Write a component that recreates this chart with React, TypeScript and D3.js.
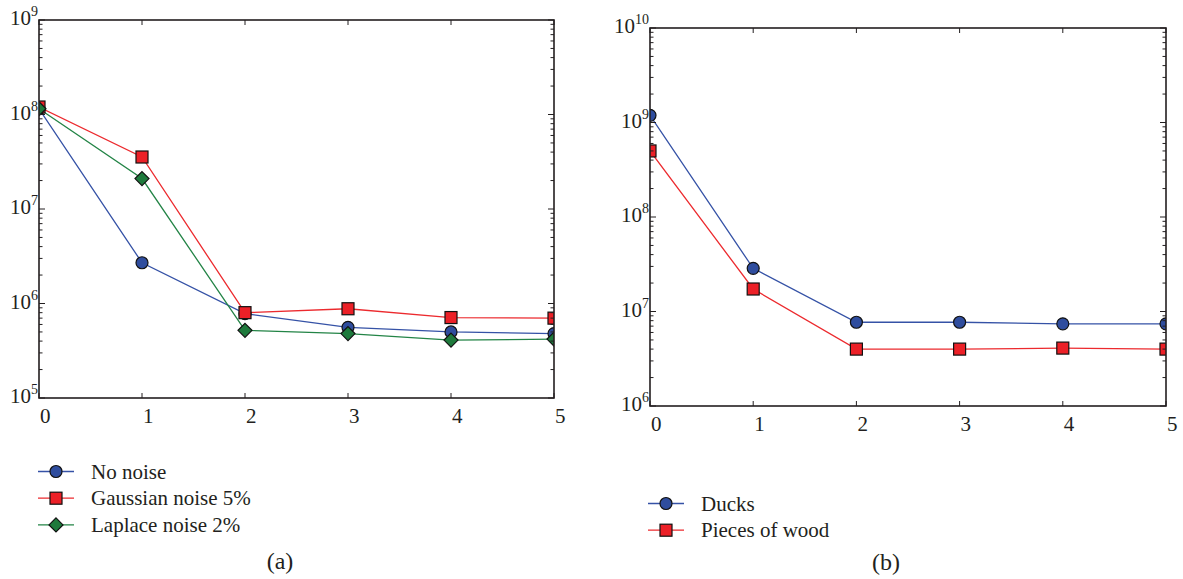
import React from 'react';
import * as d3 from 'd3';

// x positions shared by both panels
const steps = [0, 1, 2, 3, 4, 5];

// panel (a)
const noNoise = [1.15e8, 2.7e6, 7.8e5, 5.6e5, 5.0e5, 4.8e5];
const gaussian5 = [1.2e8, 3.55e7, 8.0e5, 8.8e5, 7.1e5, 7.0e5];
const laplace2 = [1.15e8, 2.1e7, 5.2e5, 4.8e5, 4.1e5, 4.2e5];
const exponentsA = [5, 6, 7, 8, 9];

// panel (b)
const ducks = [1.19e9, 2.86e7, 7.7e6, 7.7e6, 7.4e6, 7.4e6];
const wood = [5.0e8, 1.73e7, 4.0e6, 4.0e6, 4.1e6, 4.0e6];
const exponentsB = [6, 7, 8, 9, 10];

const FONT = "'Liberation Serif', 'Times New Roman', 'DejaVu Serif', serif";
const INK = '#231f20';

const BLUE = { line: '#3552a6', fill: '#2f4d9e', shape: 'circle' };
const RED = { line: '#ec2a2e', fill: '#ec2027', shape: 'square' };
const GREEN = { line: '#238446', fill: '#1e7a3c', shape: 'diamond' };

type Style = { line: string; fill: string; shape: string };
type Series = { name: string; values: number[]; style: Style };

function Marker({ x, y, style }: { x: number; y: number; style: Style }) {
  if (style.shape === 'circle')
    return <circle cx={x} cy={y} r={6} fill={style.fill} stroke="#111" strokeWidth={1.2} />;
  if (style.shape === 'square')
    return <rect x={x - 6} y={y - 6} width={12} height={12} fill={style.fill} stroke="#111" strokeWidth={1.2} />;
  const d = 7;
  return (
    <path
      d={`M${x},${y - d}L${x + d},${y}L${x},${y + d}L${x - d},${y}Z`}
      fill={style.fill}
      stroke="#111"
      strokeWidth={1.2}
    />
  );
}

function Panel(props: {
  id: string;
  left: number;
  right: number;
  top: number;
  bottom: number;
  exponents: number[];
  series: Series[];
}) {
  const { id, left, right, top, bottom, exponents, series } = props;
  const x = d3.scaleLinear().domain([0, 5]).range([left, right]);
  const y = d3
    .scaleLog()
    .domain([Math.pow(10, exponents[0]), Math.pow(10, exponents[exponents.length - 1])])
    .range([bottom, top]);
  const allTicks = y.ticks();
  const line = d3
    .line<number>()
    .x((_, i) => x(steps[i]))
    .y((d) => y(d));

  return (
    <g>
      <defs>
        <clipPath id={id}>
          <rect x={left} y={top} width={right - left} height={bottom - top} />
        </clipPath>
      </defs>
      <g clipPath={`url(#${id})`}>
        {series.map((s) => (
          <path key={s.name} d={line(s.values) || ''} fill="none" stroke={s.style.line} strokeWidth={1.3} />
        ))}
        {series.map((s) =>
          s.values.map((v, i) => <Marker key={s.name + i} x={x(steps[i])} y={y(v)} style={s.style} />)
        )}
      </g>
      {/* y ticks, mirrored on both sides */}
      {allTicks.map((t, i) => {
        const major = Math.abs(Math.log10(t) - Math.round(Math.log10(t))) < 1e-9;
        const len = major ? 6 : 3.5;
        const yy = y(t);
        return (
          <g key={'yt' + i} stroke={INK} strokeWidth={1}>
            <line x1={left} x2={left + len} y1={yy} y2={yy} />
            <line x1={right} x2={right - len} y1={yy} y2={yy} />
          </g>
        );
      })}
      {/* x ticks, mirrored top and bottom */}
      {steps.map((s) => (
        <g key={'xt' + s} stroke={INK} strokeWidth={1}>
          <line x1={x(s)} x2={x(s)} y1={bottom} y2={bottom - 5} />
          <line x1={x(s)} x2={x(s)} y1={top} y2={top + 5} />
        </g>
      ))}
      <rect
        x={left}
        y={top}
        width={right - left}
        height={bottom - top}
        fill="none"
        stroke={INK}
        strokeWidth={1.6}
      />
      {exponents.map((e) => (
        <text key={'yl' + e} x={left - 1} y={y(Math.pow(10, e)) + 5} textAnchor="end" fontSize={21} fill={INK}>
          10
          <tspan dy={-9} fontSize={14}>
            {e}
          </tspan>
        </text>
      ))}
      {steps.map((s) => (
        <text key={'xl' + s} x={x(s) + 1} y={bottom + 25} fontSize={21} fill={INK}>
          {s}
        </text>
      ))}
    </g>
  );
}

function Legend({ x0, y0, gap, series }: { x0: number; y0: number; gap: number; series: Series[] }) {
  return (
    <g>
      {series.map((s, i) => {
        const yy = y0 + i * gap;
        return (
          <g key={s.name}>
            <line x1={x0} x2={x0 + 36} y1={yy} y2={yy} stroke={s.style.line} strokeWidth={1.3} />
            <Marker x={x0 + 18} y={yy} style={s.style} />
            <text x={x0 + 53} y={yy + 7} fontSize={21} fill={INK}>
              {s.name}
            </text>
          </g>
        );
      })}
    </g>
  );
}

export default function App() {
  const seriesA: Series[] = [
    { name: 'No noise', values: noNoise, style: BLUE },
    { name: 'Gaussian noise 5%', values: gaussian5, style: RED },
    { name: 'Laplace noise 2%', values: laplace2, style: GREEN },
  ];
  const seriesB: Series[] = [
    { name: 'Ducks', values: ducks, style: BLUE },
    { name: 'Pieces of wood', values: wood, style: RED },
  ];
  return (
    <div style={{ position: 'absolute', left: 0, top: 0 }}>
      <svg width={1183} height={579} style={{ display: 'block', background: '#fff', fontFamily: FONT }}>
        <Panel id="clipA" left={39} right={554} top={20} bottom={398} exponents={exponentsA} series={seriesA} />
        <Panel id="clipB" left={650} right={1166} top={28} bottom={406} exponents={exponentsB} series={seriesB} />
        <Legend x0={38} y0={471.5} gap={26.7} series={seriesA} />
        <Legend x0={648} y0={503.5} gap={26.7} series={seriesB} />
        <text x={280} y={569} textAnchor="middle" fontSize={24} fill={INK}>
          (a)
        </text>
        <text x={886} y={570} textAnchor="middle" fontSize={24} fill={INK}>
          (b)
        </text>
      </svg>
    </div>
  );
}
